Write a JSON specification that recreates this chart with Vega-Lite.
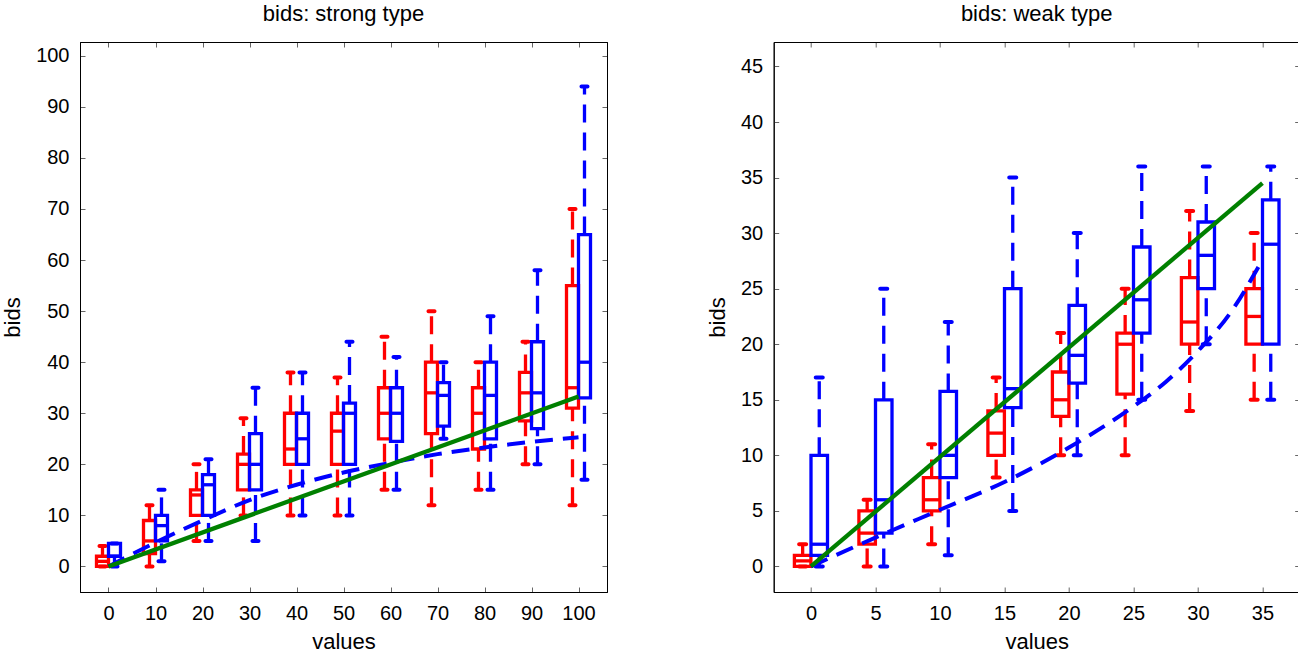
{
  "$schema": "https://vega.github.io/schema/vega-lite/v6.json",
  "padding": {"left": 1, "top": 2, "right": 0, "bottom": 0},
  "background": "white",
  "bounds": "flush",
  "spacing": 166.7,
  "datasets": {
    "strongBox": [
      {"grp": "red", "v": 0, "lo": 0, "q1": 0, "med": 1, "q3": 2, "hi": 4},
      {"grp": "red", "v": 10, "lo": 0, "q1": 2.5, "med": 5, "q3": 9, "hi": 12},
      {"grp": "red", "v": 20, "lo": 5, "q1": 10, "med": 14, "q3": 15, "hi": 20},
      {"grp": "red", "v": 30, "lo": 10, "q1": 15, "med": 20, "q3": 22, "hi": 29},
      {"grp": "red", "v": 40, "lo": 10, "q1": 20, "med": 23, "q3": 30, "hi": 38},
      {"grp": "red", "v": 50, "lo": 10, "q1": 20, "med": 26.5, "q3": 30, "hi": 37},
      {"grp": "red", "v": 60, "lo": 15, "q1": 25, "med": 30, "q3": 35, "hi": 45},
      {"grp": "red", "v": 70, "lo": 12, "q1": 26, "med": 34, "q3": 40, "hi": 50},
      {"grp": "red", "v": 80, "lo": 15, "q1": 23, "med": 30, "q3": 35, "hi": 40},
      {"grp": "red", "v": 90, "lo": 20, "q1": 28.5, "med": 34, "q3": 38, "hi": 44},
      {"grp": "red", "v": 100, "lo": 12, "q1": 31, "med": 35, "q3": 55, "hi": 70},
      {"grp": "blue", "v": 0, "lo": 0, "q1": 2, "med": 2, "q3": 4.5, "hi": 4.5},
      {"grp": "blue", "v": 10, "lo": 1, "q1": 5, "med": 8, "q3": 10, "hi": 15},
      {"grp": "blue", "v": 20, "lo": 5, "q1": 10, "med": 16, "q3": 18, "hi": 21},
      {"grp": "blue", "v": 30, "lo": 5, "q1": 15, "med": 20, "q3": 26, "hi": 35},
      {"grp": "blue", "v": 40, "lo": 10, "q1": 20, "med": 25, "q3": 30, "hi": 38},
      {"grp": "blue", "v": 50, "lo": 10, "q1": 20, "med": 30, "q3": 32, "hi": 44},
      {"grp": "blue", "v": 60, "lo": 15, "q1": 24.5, "med": 30, "q3": 35, "hi": 41},
      {"grp": "blue", "v": 70, "lo": 25, "q1": 27.5, "med": 33.5, "q3": 36, "hi": 40},
      {"grp": "blue", "v": 80, "lo": 15, "q1": 25, "med": 33.5, "q3": 40, "hi": 49},
      {"grp": "blue", "v": 90, "lo": 20, "q1": 27, "med": 34, "q3": 44, "hi": 58},
      {"grp": "blue", "v": 100, "lo": 17, "q1": 33, "med": 40, "q3": 65, "hi": 94}
    ],
    "weakBox": [
      {"grp": "red", "v": 0, "lo": 0, "q1": 0, "med": 0.5, "q3": 1, "hi": 2},
      {"grp": "red", "v": 5, "lo": 0, "q1": 2, "med": 3, "q3": 5, "hi": 6},
      {"grp": "red", "v": 10, "lo": 2, "q1": 5, "med": 6, "q3": 8, "hi": 11},
      {"grp": "red", "v": 15, "lo": 8, "q1": 10, "med": 12, "q3": 14, "hi": 17},
      {"grp": "red", "v": 20, "lo": 10, "q1": 13.5, "med": 15, "q3": 17.5, "hi": 21},
      {"grp": "red", "v": 25, "lo": 10, "q1": 15.5, "med": 20, "q3": 21, "hi": 25},
      {"grp": "red", "v": 30, "lo": 14, "q1": 20, "med": 22, "q3": 26, "hi": 32},
      {"grp": "red", "v": 35, "lo": 15, "q1": 20, "med": 22.5, "q3": 25, "hi": 30},
      {"grp": "blue", "v": 0, "lo": 0, "q1": 1, "med": 2, "q3": 10, "hi": 17},
      {"grp": "blue", "v": 5, "lo": 0, "q1": 3, "med": 6, "q3": 15, "hi": 25},
      {"grp": "blue", "v": 10, "lo": 1, "q1": 8, "med": 10, "q3": 15.75, "hi": 22},
      {"grp": "blue", "v": 15, "lo": 5, "q1": 14.3, "med": 16, "q3": 25, "hi": 35},
      {"grp": "blue", "v": 20, "lo": 10, "q1": 16.5, "med": 19, "q3": 23.5, "hi": 30},
      {"grp": "blue", "v": 25, "lo": 15, "q1": 21, "med": 24, "q3": 28.75, "hi": 36},
      {"grp": "blue", "v": 30, "lo": 20, "q1": 25, "med": 28, "q3": 31, "hi": 36},
      {"grp": "blue", "v": 35, "lo": 15, "q1": 20, "med": 29, "q3": 33, "hi": 36}
    ],
    "strongLine": [
      {"kind": "green", "v": 0, "bid": 0},
      {"kind": "green", "v": 100, "bid": 33.3},
      {"kind": "dashed", "v": 0, "bid": 0},
      {"kind": "dashed", "v": 10, "bid": 4.7},
      {"kind": "dashed", "v": 20, "bid": 9},
      {"kind": "dashed", "v": 30, "bid": 13},
      {"kind": "dashed", "v": 40, "bid": 16},
      {"kind": "dashed", "v": 50, "bid": 18.4},
      {"kind": "dashed", "v": 60, "bid": 20.3},
      {"kind": "dashed", "v": 70, "bid": 22},
      {"kind": "dashed", "v": 80, "bid": 23.3},
      {"kind": "dashed", "v": 90, "bid": 24.4},
      {"kind": "dashed", "v": 100, "bid": 25.3}
    ],
    "weakLine": [
      {"kind": "green", "v": 0, "bid": 0},
      {"kind": "green", "v": 35, "bid": 34.5},
      {"kind": "dashed", "v": 0, "bid": 0},
      {"kind": "dashed", "v": 5, "bid": 2.6},
      {"kind": "dashed", "v": 10, "bid": 5.1},
      {"kind": "dashed", "v": 15, "bid": 7.6},
      {"kind": "dashed", "v": 20, "bid": 10.7},
      {"kind": "dashed", "v": 25, "bid": 14.4},
      {"kind": "dashed", "v": 27.5, "bid": 16.6},
      {"kind": "dashed", "v": 30, "bid": 19.4},
      {"kind": "dashed", "v": 32.5, "bid": 22.8},
      {"kind": "dashed", "v": 35, "bid": 27.6}
    ]
  },
  "hconcat": [
    {
      "width": 527,
      "height": 550,
      "title": "bids: strong type",
      "resolve": {"axis": {"x": "independent", "y": "independent"}},
      "layer": [
        {
          "encoding": {
            "x": {"field": "v", "type": "quantitative", "title": "values",
                  "scale": {"domain": [-5, 105], "nice": false, "zero": false},
                  "axis": {"values": [0, 10, 20, 30, 40, 50, 60, 70, 80, 90, 100]}}
          },
          "layer": [
            {
              "data": {"name": "strongBox"},
              "transform": [{"filter": "datum.grp === 'red'"}],
              "layer": [
                {"mark": {"type": "rule", "xOffset": -6, "color": "#ff0000", "strokeWidth": 3.3, "strokeDash": [18, 10]},
                 "encoding": {"y": {"field": "q3", "type": "quantitative", "title": "bids", "scale": {"domain": [-5, 102.7], "nice": false, "zero": false}, "axis": {"values": [0, 10, 20, 30, 40, 50, 60, 70, 80, 90, 100]}}, "y2": {"field": "hi"}}},
                {"mark": {"type": "rule", "xOffset": -6, "color": "#ff0000", "strokeWidth": 3.3, "strokeDash": [18, 10]},
                 "encoding": {"y": {"field": "lo", "type": "quantitative", "title": "bids"}, "y2": {"field": "q1"}}},
                {"mark": {"type": "bar", "width": 12, "xOffset": -6, "filled": false, "color": "#ff0000", "strokeWidth": 3.3},
                 "encoding": {"y": {"field": "q1", "type": "quantitative", "title": "bids"}, "y2": {"field": "q3"}}},
                {"mark": {"type": "tick", "orient": "horizontal", "size": 12, "thickness": 3.3, "xOffset": -6, "color": "#ff0000", "opacity": 1},
                 "encoding": {"y": {"field": "med", "type": "quantitative", "title": "bids"}}},
                {"mark": {"type": "tick", "orient": "horizontal", "size": 10, "thickness": 4, "cornerRadius": 2, "xOffset": -6, "color": "#ff0000", "opacity": 1},
                 "encoding": {"y": {"field": "hi", "type": "quantitative", "title": "bids"}}},
                {"mark": {"type": "tick", "orient": "horizontal", "size": 10, "thickness": 4, "cornerRadius": 2, "xOffset": -6, "color": "#ff0000", "opacity": 1},
                 "encoding": {"y": {"field": "lo", "type": "quantitative", "title": "bids"}}}
              ]
            },
            {
              "data": {"name": "strongBox"},
              "transform": [{"filter": "datum.grp === 'blue'"}],
              "layer": [
                {"mark": {"type": "rule", "xOffset": 6, "color": "#0000ff", "strokeWidth": 3.3, "strokeDash": [18, 10]},
                 "encoding": {"y": {"field": "q3", "type": "quantitative", "title": "bids"}, "y2": {"field": "hi"}}},
                {"mark": {"type": "rule", "xOffset": 6, "color": "#0000ff", "strokeWidth": 3.3, "strokeDash": [18, 10]},
                 "encoding": {"y": {"field": "lo", "type": "quantitative", "title": "bids"}, "y2": {"field": "q1"}}},
                {"mark": {"type": "bar", "width": 12, "xOffset": 6, "filled": false, "color": "#0000ff", "strokeWidth": 3.3},
                 "encoding": {"y": {"field": "q1", "type": "quantitative", "title": "bids"}, "y2": {"field": "q3"}}},
                {"mark": {"type": "tick", "orient": "horizontal", "size": 12, "thickness": 3.3, "xOffset": 6, "color": "#0000ff", "opacity": 1},
                 "encoding": {"y": {"field": "med", "type": "quantitative", "title": "bids"}}},
                {"mark": {"type": "tick", "orient": "horizontal", "size": 10, "thickness": 4, "cornerRadius": 2, "xOffset": 6, "color": "#0000ff", "opacity": 1},
                 "encoding": {"y": {"field": "hi", "type": "quantitative", "title": "bids"}}},
                {"mark": {"type": "tick", "orient": "horizontal", "size": 10, "thickness": 4, "cornerRadius": 2, "xOffset": 6, "color": "#0000ff", "opacity": 1},
                 "encoding": {"y": {"field": "lo", "type": "quantitative", "title": "bids"}}}
              ]
            },
            {
              "data": {"name": "strongLine"},
              "transform": [{"filter": "datum.kind === 'dashed'"}],
              "mark": {"type": "line", "color": "#0000ff", "strokeWidth": 4, "strokeDash": [18, 10], "interpolate": "monotone"},
              "encoding": {"y": {"field": "bid", "type": "quantitative", "title": "bids"}}
            },
            {
              "data": {"name": "strongLine"},
              "transform": [{"filter": "datum.kind === 'green'"}],
              "mark": {"type": "line", "color": "#008000", "strokeWidth": 4.3},
              "encoding": {"y": {"field": "bid", "type": "quantitative", "title": "bids"}}
            }
          ]
        },
        {
          "data": {"name": "strongLine"},
          "transform": [{"filter": "datum.kind === 'green'"}],
          "mark": {"type": "line", "opacity": 0},
          "encoding": {
            "x": {"field": "v", "type": "quantitative", "axis": {"orient": "top", "values": [0, 10, 20, 30, 40, 50, 60, 70, 80, 90, 100], "labels": false, "title": null}},
            "y": {"field": "bid", "type": "quantitative", "axis": {"orient": "right", "values": [0, 10, 20, 30, 40, 50, 60, 70, 80, 90, 100], "labels": false, "title": null}}
          }
        }
      ]
    },
    {
      "width": 526,
      "height": 550,
      "title": "bids: weak type",
      "resolve": {"axis": {"x": "independent", "y": "independent"}},
      "layer": [
        {
          "encoding": {
            "x": {"field": "v", "type": "quantitative", "title": "values",
                  "scale": {"domain": [-2.5, 37.5], "nice": false, "zero": false},
                  "axis": {"values": [0, 5, 10, 15, 20, 25, 30, 35]}}
          },
          "layer": [
            {
              "data": {"name": "weakBox"},
              "transform": [{"filter": "datum.grp === 'red'"}],
              "layer": [
                {"mark": {"type": "rule", "xOffset": -8.3, "color": "#ff0000", "strokeWidth": 3.3, "strokeDash": [18, 10]},
                 "encoding": {"y": {"field": "q3", "type": "quantitative", "title": "bids", "scale": {"domain": [-2.3, 47.2], "nice": false, "zero": false}, "axis": {"values": [0, 5, 10, 15, 20, 25, 30, 35, 40, 45]}}, "y2": {"field": "hi"}}},
                {"mark": {"type": "rule", "xOffset": -8.3, "color": "#ff0000", "strokeWidth": 3.3, "strokeDash": [18, 10]},
                 "encoding": {"y": {"field": "lo", "type": "quantitative", "title": "bids"}, "y2": {"field": "q1"}}},
                {"mark": {"type": "bar", "width": 16.5, "xOffset": -8.3, "filled": false, "color": "#ff0000", "strokeWidth": 3.3},
                 "encoding": {"y": {"field": "q1", "type": "quantitative", "title": "bids"}, "y2": {"field": "q3"}}},
                {"mark": {"type": "tick", "orient": "horizontal", "size": 16.5, "thickness": 3.3, "xOffset": -8.3, "color": "#ff0000", "opacity": 1},
                 "encoding": {"y": {"field": "med", "type": "quantitative", "title": "bids"}}},
                {"mark": {"type": "tick", "orient": "horizontal", "size": 11, "thickness": 4, "cornerRadius": 2, "xOffset": -8.3, "color": "#ff0000", "opacity": 1},
                 "encoding": {"y": {"field": "hi", "type": "quantitative", "title": "bids"}}},
                {"mark": {"type": "tick", "orient": "horizontal", "size": 11, "thickness": 4, "cornerRadius": 2, "xOffset": -8.3, "color": "#ff0000", "opacity": 1},
                 "encoding": {"y": {"field": "lo", "type": "quantitative", "title": "bids"}}}
              ]
            },
            {
              "data": {"name": "weakBox"},
              "transform": [{"filter": "datum.grp === 'blue'"}],
              "layer": [
                {"mark": {"type": "rule", "xOffset": 8.3, "color": "#0000ff", "strokeWidth": 3.3, "strokeDash": [18, 10]},
                 "encoding": {"y": {"field": "q3", "type": "quantitative", "title": "bids"}, "y2": {"field": "hi"}}},
                {"mark": {"type": "rule", "xOffset": 8.3, "color": "#0000ff", "strokeWidth": 3.3, "strokeDash": [18, 10]},
                 "encoding": {"y": {"field": "lo", "type": "quantitative", "title": "bids"}, "y2": {"field": "q1"}}},
                {"mark": {"type": "bar", "width": 16.5, "xOffset": 8.3, "filled": false, "color": "#0000ff", "strokeWidth": 3.3},
                 "encoding": {"y": {"field": "q1", "type": "quantitative", "title": "bids"}, "y2": {"field": "q3"}}},
                {"mark": {"type": "tick", "orient": "horizontal", "size": 16.5, "thickness": 3.3, "xOffset": 8.3, "color": "#0000ff", "opacity": 1},
                 "encoding": {"y": {"field": "med", "type": "quantitative", "title": "bids"}}},
                {"mark": {"type": "tick", "orient": "horizontal", "size": 11, "thickness": 4, "cornerRadius": 2, "xOffset": 8.3, "color": "#0000ff", "opacity": 1},
                 "encoding": {"y": {"field": "hi", "type": "quantitative", "title": "bids"}}},
                {"mark": {"type": "tick", "orient": "horizontal", "size": 11, "thickness": 4, "cornerRadius": 2, "xOffset": 8.3, "color": "#0000ff", "opacity": 1},
                 "encoding": {"y": {"field": "lo", "type": "quantitative", "title": "bids"}}}
              ]
            },
            {
              "data": {"name": "weakLine"},
              "transform": [{"filter": "datum.kind === 'dashed'"}],
              "mark": {"type": "line", "color": "#0000ff", "strokeWidth": 4, "strokeDash": [18, 10], "interpolate": "monotone"},
              "encoding": {"y": {"field": "bid", "type": "quantitative", "title": "bids"}}
            },
            {
              "data": {"name": "weakLine"},
              "transform": [{"filter": "datum.kind === 'green'"}],
              "mark": {"type": "line", "color": "#008000", "strokeWidth": 4.3},
              "encoding": {"y": {"field": "bid", "type": "quantitative", "title": "bids"}}
            }
          ]
        },
        {
          "data": {"name": "weakLine"},
          "transform": [{"filter": "datum.kind === 'green'"}],
          "mark": {"type": "line", "opacity": 0},
          "encoding": {
            "x": {"field": "v", "type": "quantitative", "axis": {"orient": "top", "values": [0, 5, 10, 15, 20, 25, 30, 35], "labels": false, "title": null}},
            "y": {"field": "bid", "type": "quantitative", "axis": {"orient": "right", "values": [0, 5, 10, 15, 20, 25, 30, 35, 40, 45], "labels": false, "title": null}}
          }
        }
      ]
    }
  ],
  "config": {
    "font": "Liberation Sans",
    "view": {"stroke": "#000000", "strokeWidth": 1},
    "axis": {
      "labelFontSize": 20, "titleFontSize": 22, "titleFontWeight": "normal",
      "labelColor": "#000000", "titleColor": "#000000",
      "domain": true, "domainColor": "#000000", "domainWidth": 1,
      "tickColor": "#666666", "tickSize": -5, "tickWidth": 1,
      "grid": false, "labelPadding": 16
    },
    "axisX": {"titlePadding": 8},
    "axisY": {"titlePadding": 11},
    "title": {"fontSize": 22, "fontWeight": "normal", "color": "#000000", "offset": 16}
  }
}
